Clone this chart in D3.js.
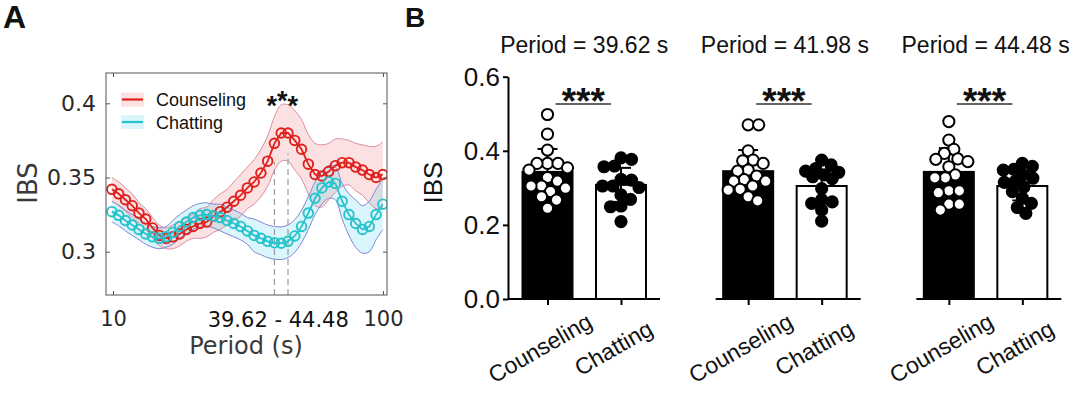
<!DOCTYPE html>
<html>
<head>
<meta charset="utf-8">
<title>IBS by period</title>
<script src="https://cdn.jsdelivr.net/npm/d3@7"></script>
<style>
  body { margin: 0; background: #fff; }
  svg text { font-family: "Liberation Sans", Arial, Helvetica, sans-serif; }
  svg .matlab text, svg text.matlab { font-family: "DejaVu Sans", Verdana, sans-serif; }
</style>
</head>
<body>
<svg width="1080" height="395" id="mainsvg"></svg>
<script>
// ---------- panel A data: wavelet period (s) vs IBS, mean and shaded error ----------
const periods = [9.905, 10.494, 11.118, 11.779, 12.480, 13.222, 14.008, 14.841, 15.724, 16.659,
  17.650, 18.699, 19.810, 20.988, 22.236, 23.559, 24.960, 26.444, 28.016, 29.682,
  31.447, 33.317, 35.298, 37.397, 39.620, 41.976, 44.472, 47.117, 49.918, 52.887,
  56.032, 59.363, 62.893, 66.633, 70.595, 74.793, 79.241, 83.953, 88.945, 94.234, 99.837];
const counselMean = [0.342, 0.339, 0.335, 0.331, 0.326, 0.322, 0.316, 0.311, 0.309, 0.310,
  0.312, 0.315, 0.317, 0.319, 0.320, 0.324, 0.327, 0.330, 0.334, 0.338,
  0.343, 0.347, 0.353, 0.361, 0.373, 0.380, 0.380, 0.375, 0.369, 0.359,
  0.352, 0.351, 0.354, 0.358, 0.360, 0.360, 0.357, 0.355, 0.352, 0.350, 0.352];
const counselSem = [0.008, 0.008, 0.008, 0.008, 0.007, 0.007, 0.007, 0.007, 0.007, 0.008,
  0.008, 0.008, 0.008, 0.010, 0.010, 0.011, 0.012, 0.012, 0.013, 0.014,
  0.014, 0.015, 0.016, 0.017, 0.018, 0.019, 0.019, 0.020, 0.020, 0.020,
  0.021, 0.021, 0.019, 0.018, 0.016, 0.015, 0.016, 0.017, 0.019, 0.021, 0.022];
const chatMean = [0.327, 0.3245, 0.321, 0.318, 0.315, 0.312, 0.310, 0.309, 0.310, 0.313,
  0.317, 0.320, 0.323, 0.3245, 0.325, 0.324, 0.323, 0.321, 0.319, 0.317,
  0.314, 0.311, 0.309, 0.307, 0.306, 0.3057, 0.307, 0.3106, 0.317, 0.326,
  0.336, 0.343, 0.347, 0.346, 0.334, 0.325, 0.319, 0.315, 0.317, 0.325, 0.332];
const chatSem = [0.007, 0.007, 0.007, 0.007, 0.007, 0.007, 0.007, 0.007, 0.007, 0.008,
  0.008, 0.008, 0.008, 0.008, 0.008, 0.008, 0.009, 0.009, 0.009, 0.009,
  0.009, 0.011, 0.011, 0.011, 0.011, 0.011, 0.011, 0.011, 0.011, 0.011,
  0.011, 0.011, 0.011, 0.011, 0.012, 0.014, 0.016, 0.016, 0.017, 0.017, 0.017];
const seriesNames = ['Counseling', 'Chatting'];
const sigRange = [39.62, 44.48];
const periodTicks = [10, 100];
const ibsTicksA = [0.3, 0.35, 0.4];

// ---------- panel B data: IBS per condition at three periods ----------
const periodLabels = ['39.62', '41.98', '44.48'];
const conditions = ['Counseling', 'Chatting'];
const counselBarMean = [0.343, 0.345, 0.343];
const counselBarSd = [0.062, 0.057, 0.064];
const chatBarMean = [0.308, 0.305, 0.305];
const chatBarSd = [0.046, 0.040, 0.039];
const counselDots = [
  [0.498, 0.445, 0.402, 0.366, 0.366, 0.366, 0.354, 0.348, 0.328, 0.318, 0.305, 0.299, 0.305, 0.290, 0.276, 0.267, 0.245],
  [0.470, 0.470, 0.400, 0.375, 0.373, 0.366, 0.348, 0.345, 0.332, 0.322, 0.318, 0.318, 0.305, 0.296, 0.294, 0.276, 0.265],
  [0.479, 0.429, 0.404, 0.393, 0.378, 0.371, 0.377, 0.357, 0.335, 0.327, 0.327, 0.292, 0.287, 0.292, 0.256, 0.256, 0.240]
];
const chatDots = [
  [0.381, 0.377, 0.357, 0.359, 0.321, 0.323, 0.305, 0.305, 0.301, 0.281, 0.269, 0.251, 0.249, 0.209],
  [0.375, 0.362, 0.352, 0.345, 0.342, 0.335, 0.330, 0.325, 0.298, 0.268, 0.262, 0.258, 0.240, 0.210],
  [0.366, 0.358, 0.350, 0.348, 0.335, 0.326, 0.317, 0.315, 0.302, 0.290, 0.272, 0.258, 0.247, 0.231]
];
const ibsTicksB = [0, 0.2, 0.4, 0.6];
const sigLevel = 0.526;

const svg = d3.select('#mainsvg');

svg.append('text').text('A').attr('x', 3).attr('y', 28).attr('font-size', 32).attr('font-weight', 'bold').attr('fill', '#111');
svg.append('text').text('B').attr('x', 405).attr('y', 27).attr('font-size', 28).attr('font-weight', 'bold').attr('fill', '#111');

// ================= panel A =================
const box = {x0: 106, x1: 387, y0: 73, y1: 295};
const xA = d3.scaleLog().domain([10, 100]).range([113, 383]);
const yA = d3.scaleLinear().domain([0.3, 0.4]).range([251.7, 103.3]);
const gA = svg.append('g');
const idx = d3.range(periods.length);

gA.append('clipPath').attr('id', 'clipA').append('rect')
  .attr('x', box.x0).attr('y', box.y0).attr('width', box.x1 - box.x0).attr('height', box.y1 - box.y0);

const series = [
  {name: seriesNames[0], mean: counselMean, sem: counselSem, color: '#e0201c', fill: 'rgba(240,105,110,0.2)', edge: '#d98ea2'},
  {name: seriesNames[1], mean: chatMean, sem: chatSem, color: '#27c3cc', fill: 'rgba(70,205,235,0.2)', edge: '#7f86d6'}
];

const plotA = gA.append('g').attr('clip-path', 'url(#clipA)');
series.forEach(s => {
  const area = d3.area().curve(d3.curveCatmullRom)
    .x(i => xA(periods[i]))
    .y0(i => yA(s.mean[i] - s.sem[i]))
    .y1(i => yA(s.mean[i] + s.sem[i]));
  plotA.append('path').datum(idx).attr('d', area).attr('fill', s.fill);
});
series.forEach(s => {
  [-1, 1].forEach(sign => {
    const edge = d3.line().curve(d3.curveCatmullRom)
      .x(i => xA(periods[i])).y(i => yA(s.mean[i] + sign * s.sem[i]));
    plotA.append('path').datum(idx).attr('d', edge)
      .attr('fill', 'none').attr('stroke', s.edge).attr('stroke-width', 1);
  });
});

// dashed markers of the significant period range
sigRange.forEach(p => {
  const k = idx.find(i => Math.abs(periods[i] - p) < 0.05);
  plotA.append('line')
    .attr('x1', xA(p)).attr('x2', xA(p))
    .attr('y1', box.y1).attr('y2', yA(counselMean[k] - counselSem[k]) - 8)
    .attr('stroke', '#9a9a9a').attr('stroke-width', 1.2).attr('stroke-dasharray', '6,4');
});

series.forEach(s => {
  const line = d3.line().x(i => xA(periods[i])).y(i => yA(s.mean[i]));
  plotA.append('path').datum(idx).attr('d', line)
    .attr('fill', 'none').attr('stroke', s.color).attr('stroke-width', 1.8);
  plotA.selectAll(null).data(idx).join('circle')
    .attr('cx', i => xA(periods[i])).attr('cy', i => yA(s.mean[i])).attr('r', 4.8)
    .attr('fill', 'none').attr('stroke', s.color).attr('stroke-width', 1.9);
});

// frame and inward ticks
gA.append('rect').attr('x', box.x0).attr('y', box.y0)
  .attr('width', box.x1 - box.x0).attr('height', box.y1 - box.y0)
  .attr('fill', 'none').attr('stroke', '#555').attr('stroke-width', 1);

const yAxisA = gA.append('g').attr('class', 'matlab').attr('transform', `translate(${box.x0},0)`)
  .call(d3.axisLeft(yA).tickValues(ibsTicksA).tickSize(-4).tickPadding(9).tickFormat(d => String(d)));
gA.append('g').attr('transform', `translate(${box.x1},0)`)
  .call(d3.axisRight(yA).tickValues(ibsTicksA).tickSize(-4).tickFormat(''));
const xAxisA = gA.append('g').attr('class', 'matlab').attr('transform', `translate(0,${box.y1})`)
  .call(d3.axisBottom(xA).tickValues(periodTicks).tickSize(-4).tickPadding(16).tickFormat(d3.format('d')));
gA.append('g').attr('transform', `translate(0,${box.y0})`)
  .call(d3.axisTop(xA).tickValues(periodTicks).tickSize(-4).tickFormat(''));
gA.selectAll('.domain').remove();
gA.selectAll('.tick line').attr('stroke', '#555');
yAxisA.selectAll('text').attr('font-size', 22).attr('fill', '#2a2a2a').attr('x', -10);
xAxisA.selectAll('text').attr('font-size', 21).attr('fill', '#2a2a2a');

gA.append('text').attr('class', 'matlab').text(`${sigRange[0]} - ${sigRange[1]}`)
  .attr('x', (xA(sigRange[0]) + xA(sigRange[1])) / 2 - 3).attr('y', 327)
  .attr('text-anchor', 'middle').attr('font-size', 21).attr('fill', '#111');
gA.append('text').attr('class', 'matlab').text('Period (s)')
  .attr('x', 246).attr('y', 354).attr('text-anchor', 'middle')
  .attr('font-size', 24).attr('fill', '#3a3a3a');
gA.append('text').attr('class', 'matlab').text('IBS')
  .attr('transform', 'translate(37,183) rotate(-90)').attr('text-anchor', 'middle')
  .attr('font-size', 26).attr('fill', '#3a3a3a');

// significance stars above the peak
const starsA = gA.append('text').attr('text-anchor', 'middle')
  .attr('x', (xA(sigRange[0]) + xA(sigRange[1])) / 2 + 1).attr('y', 115)
  .attr('font-size', 27).attr('font-weight', 'bold').attr('fill', '#111');
starsA.append('tspan').text('*');
starsA.append('tspan').text('*').attr('dy', -5);
starsA.append('tspan').text('*').attr('dy', 5);

// legend
const legend = gA.append('g');
series.forEach((s, j) => {
  const ly = 99.5 + j * 22.5;
  legend.append('rect').attr('x', 121).attr('y', ly - 7).attr('width', 23).attr('height', 14)
    .attr('fill', s.fill);
  legend.append('line').attr('x1', 122).attr('x2', 143).attr('y1', ly).attr('y2', ly)
    .attr('stroke', s.color).attr('stroke-width', 2.2);
  legend.append('text').text(s.name).attr('x', 156).attr('y', ly + 6.5)
    .attr('font-size', 18).attr('fill', '#111');
});

// ================= panel B =================
const yB = d3.scaleLinear().domain([0, 0.6]).range([299, 76.7]);
const xGroup = d3.scaleBand().domain(periodLabels).range([514, 1116]);
const xCat = d3.scalePoint().domain(conditions).range([33.5, 107]);
const barW = 50;
const dotR = 5.6;
const gB = svg.append('g');

const yAxisB = gB.append('g').attr('transform', `translate(${xGroup(periodLabels[0]) - 6},0)`)
  .call(d3.axisLeft(yB).tickValues(ibsTicksB).tickSize(5).tickSizeOuter(0).tickPadding(3)
    .tickFormat(d3.format('.1f')));
yAxisB.select('.domain').attr('stroke-width', 2);
yAxisB.selectAll('.tick line').attr('stroke-width', 2);
yAxisB.selectAll('text').attr('font-size', 26).attr('fill', '#111');

gB.append('text').text('IBS')
  .attr('transform', 'translate(442,182.5) rotate(-90)').attr('text-anchor', 'middle')
  .attr('font-size', 26).attr('fill', '#111');

// spread points horizontally so they do not pile up (simple beeswarm)
function swarm(values, maxDx) {
  const placed = [];
  const out = new Array(values.length);
  const order = values.map((v, i) => i).sort((a, b) => values[b] - values[a]);
  order.forEach(i => {
    const y = yB(values[i]);
    let best = 0, bestD = -1, done = false;
    for (let s = 0; s <= maxDx && !done; s += 0.5) {
      for (const dx of (s === 0 ? [0] : [s, -s])) {
        const d = placed.length ? d3.min(placed, p => Math.hypot(p.dx - dx, p.y - y)) : Infinity;
        if (d >= dotR * 2 * 0.92) { best = dx; done = true; break; }
        if (d > bestD) { bestD = d; best = dx; }
      }
    }
    placed.push({dx: best, y});
    out[i] = best;
  });
  return out;
}

periodLabels.forEach((p, gi) => {
  const g = gB.append('g').attr('transform', `translate(${xGroup(p)},0)`);
  const bars = [
    {cond: conditions[0], mean: counselBarMean[gi], sd: counselBarSd[gi], dots: counselDots[gi], fill: '#000', dotFill: '#fff'},
    {cond: conditions[1], mean: chatBarMean[gi], sd: chatBarSd[gi], dots: chatDots[gi], fill: '#fff', dotFill: '#000'}
  ];

  g.append('text').text(`Period = ${p} s`)
    .attr('x', (xCat(conditions[0]) + xCat(conditions[1])) / 2).attr('y', 53)
    .attr('text-anchor', 'middle').attr('font-size', 23).attr('fill', '#111');

  g.selectAll('rect.bar').data(bars).join('rect').attr('class', 'bar')
    .attr('x', d => xCat(d.cond) - barW / 2).attr('width', barW)
    .attr('y', d => yB(d.mean)).attr('height', d => yB(0) - yB(d.mean))
    .attr('fill', d => d.fill).attr('stroke', '#000').attr('stroke-width', 2);

  bars.forEach(d => {
    const cx = xCat(d.cond);
    const err = g.append('g').attr('stroke', '#000').attr('stroke-width', 2);
    err.append('line').attr('x1', cx).attr('x2', cx).attr('y1', yB(d.mean - d.sd)).attr('y2', yB(d.mean + d.sd));
    [d.mean - d.sd, d.mean + d.sd].forEach(v => {
      err.append('line').attr('x1', cx - 10).attr('x2', cx + 10).attr('y1', yB(v)).attr('y2', yB(v));
    });
    const offs = swarm(d.dots, 20);
    g.selectAll(null).data(d.dots).join('circle')
      .attr('cx', (v, i) => cx + offs[i]).attr('cy', v => yB(v)).attr('r', dotR)
      .attr('fill', d.dotFill).attr('stroke', '#000').attr('stroke-width', 2);
  });

  // baseline with category ticks
  const x0 = gi === 0 ? -6 : 1;
  g.append('line').attr('x1', x0).attr('x2', 146).attr('y1', yB(0)).attr('y2', yB(0))
    .attr('stroke', '#000').attr('stroke-width', 2.2);
  const xAxisB = g.append('g').attr('transform', `translate(0,${yB(0)})`)
    .call(d3.axisBottom(xCat).tickSize(6).tickSizeOuter(0));
  xAxisB.select('.domain').remove();
  xAxisB.selectAll('.tick line').attr('stroke-width', 2);
  xAxisB.selectAll('text')
    .attr('x', 0).attr('y', 0).attr('dy', 0)
    .attr('transform', 'translate(-4,56) rotate(-30)')
    .attr('text-anchor', 'middle').attr('font-size', 23).attr('fill', '#111');

  // significance bracket
  const sx0 = xCat(conditions[0]) + 8, sx1 = xCat(conditions[1]) - 10;
  g.append('line').attr('x1', sx0).attr('x2', sx1).attr('y1', yB(sigLevel)).attr('y2', yB(sigLevel))
    .attr('stroke', '#333').attr('stroke-width', 1.5);
  g.append('text').text('***').attr('x', (sx0 + sx1) / 2).attr('y', yB(sigLevel) + 10)
    .attr('text-anchor', 'middle').attr('font-size', 37).attr('font-weight', 'bold').attr('fill', '#111');
});
</script>
</body>
</html>
